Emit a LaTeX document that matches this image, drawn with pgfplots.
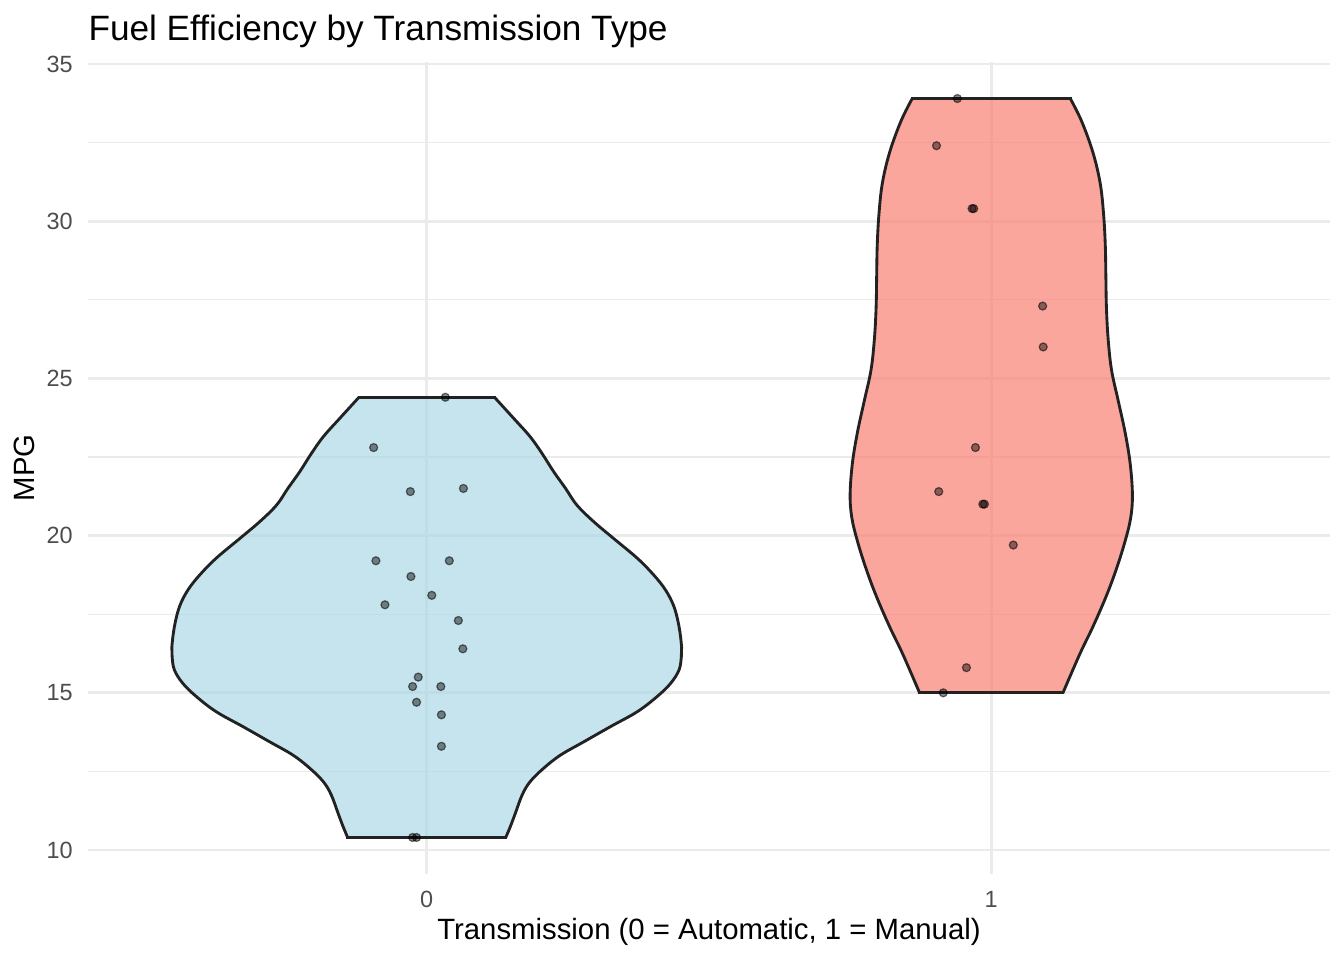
\documentclass[border=0pt]{standalone}
\usepackage{pgfplots}
\usepackage{pgfplotstable}
\pgfplotsset{compat=1.18}
\usepackage{fontspec}
\setmainfont{Liberation Sans}
\definecolor{autofill}{RGB}{173,216,230}
\definecolor{manfill}{RGB}{250,128,114}
\definecolor{gridc}{RGB}{235,235,235}
\definecolor{tickc}{RGB}{77,77,77}
\definecolor{outl}{RGB}{34,34,34}

% violin half-widths (offset from category centre) against mpg
\pgfplotstableread{
hw y
0.140 10.40
0.148 10.74
0.157 11.17
0.169 11.75
0.183 12.17
0.207 12.60
0.237 13.02
0.278 13.44
0.325 13.92
0.373 14.40
0.408 14.88
0.432 15.30
0.447 15.73
0.451 16.15
0.4515 16.45
0.447 17.10
0.438 17.74
0.423 18.27
0.402 18.75
0.373 19.28
0.331 19.91
0.296 20.44
0.266 20.97
0.246 21.50
0.225 22.03
0.204 22.62
0.183 23.15
0.154 23.73
0.120 24.40
}\autoshape
\pgfplotstableread{
hw y
0.127 15.00
0.157 16.24
0.180 17.10
0.204 18.09
0.222 18.96
0.237 19.82
0.247 20.57
0.250 21.31
0.246 22.30
0.237 23.29
0.225 24.28
0.213 25.27
0.207 26.26
0.204 27.25
0.203 28.24
0.202 29.23
0.199 30.21
0.193 31.20
0.180 32.19
0.160 33.18
0.140 33.90
}\manshape
% jittered points
\pgfplotstableread{
px py
0.033 24.4
-0.094 22.8
-0.029 21.4
0.065 21.5
-0.090 19.2
0.040 19.2
-0.028 18.7
0.009 18.1
-0.074 17.8
0.056 17.3
0.064 16.4
-0.015 15.5
-0.025 15.2
0.025 15.2
-0.018 14.7
0.026 14.3
0.026 13.3
-0.025 10.4
-0.018 10.4
}\autopts
\pgfplotstableread{
px py
0.940 33.9
0.903 32.4
0.966 30.4
0.969 30.4
1.091 27.3
1.092 26.0
0.972 22.8
0.907 21.4
0.985 21.0
0.988 21.0
1.039 19.7
0.956 15.8
0.915 15.0
}\manpts

\begin{document}
\begin{tikzpicture}[x=1pt,y=1pt]
\useasboundingbox (0,0) rectangle (504,360);
\begin{axis}[
  at={(33pt,32.1pt)}, anchor=south west,
  scale only axis, width=465.75pt, height=304.8pt,
  xmin=-0.6, xmax=1.6, ymin=9.225, ymax=35.075,
  axis line style={draw=none},
  tick style={draw=none},
  xtick={0,1}, xticklabels={0,1},
  ytick={10,15,20,25,30,35},
  minor ytick={12.5,17.5,22.5,27.5,32.5},
  xmajorgrids, ymajorgrids, yminorgrids,
  major grid style={gridc, line width=1.07pt},
  minor grid style={gridc, line width=0.53pt},
  tick label style={font=\fontsize{8.8}{10}\selectfont, text=tickc},
  /pgf/number format/assume math mode=true,
  yticklabel style={anchor=east, inner sep=0pt, xshift=-5.5pt},
  xticklabel style={anchor=north, inner sep=0pt, yshift=-6.1pt},
  title={Fuel Efficiency by Transmission Type},
  title style={at={(axis description cs:0,1)}, anchor=base west, yshift=2pt,
    font=\fontsize{13.2}{15}\selectfont, inner sep=0pt},
  xlabel={Transmission (0 = Automatic, 1 = Manual)},
  xlabel style={at={(axis description cs:0.5,-0.0800)}, anchor=base,
    font=\fontsize{11}{13}\selectfont, inner sep=0pt},
  ylabel={MPG},
  ylabel style={at={(axis description cs:-0.0427,0.5)}, anchor=base,
    font=\fontsize{11}{13}\selectfont, inner sep=0pt},
]
% ---- automatic violin: fill ----
\addplot[fill=autofill, fill opacity=0.7, draw=none] coordinates {
(0.140,10.40) (0.148,10.74) (0.157,11.17) (0.169,11.75) (0.183,12.17) (0.207,12.60)
(0.237,13.02) (0.278,13.44) (0.325,13.92) (0.373,14.40) (0.408,14.88) (0.432,15.30)
(0.447,15.73) (0.451,16.15) (0.4515,16.45) (0.447,17.10) (0.438,17.74) (0.423,18.27)
(0.402,18.75) (0.373,19.28) (0.331,19.91) (0.296,20.44) (0.266,20.97) (0.246,21.50)
(0.225,22.03) (0.204,22.62) (0.183,23.15) (0.154,23.73) (0.120,24.40)
(-0.120,24.40) (-0.154,23.73) (-0.183,23.15) (-0.204,22.62) (-0.225,22.03) (-0.246,21.50)
(-0.266,20.97) (-0.296,20.44) (-0.331,19.91) (-0.373,19.28) (-0.402,18.75) (-0.423,18.27)
(-0.438,17.74) (-0.447,17.10) (-0.4515,16.45) (-0.451,16.15) (-0.447,15.73) (-0.432,15.30)
(-0.408,14.88) (-0.373,14.40) (-0.325,13.92) (-0.278,13.44) (-0.237,13.02) (-0.207,12.60)
(-0.183,12.17) (-0.169,11.75) (-0.157,11.17) (-0.148,10.74) (-0.140,10.40) (0.140,10.40)} -- cycle;
% outline
\addplot[draw=outl, line width=1.07pt, smooth, tension=0.6] table[x expr=\thisrow{hw}, y=y] {\autoshape};
\addplot[draw=outl, line width=1.07pt, smooth, tension=0.6] table[x expr=-\thisrow{hw}, y=y] {\autoshape};
\addplot[draw=outl, line width=1.07pt, line cap=rect] coordinates {(-0.120,24.40) (0.120,24.40)};
\addplot[draw=outl, line width=1.07pt, line cap=rect] coordinates {(-0.140,10.40) (0.140,10.40)};
% ---- manual violin: fill ----
\addplot[fill=manfill, fill opacity=0.7, draw=none] coordinates {
(1.127,15.00) (1.157,16.24) (1.180,17.10) (1.204,18.09) (1.222,18.96) (1.237,19.82)
(1.247,20.57) (1.250,21.31) (1.246,22.30) (1.237,23.29) (1.225,24.28) (1.213,25.27)
(1.207,26.26) (1.204,27.25) (1.203,28.24) (1.202,29.23) (1.199,30.21) (1.193,31.20)
(1.180,32.19) (1.160,33.18) (1.140,33.90)
(0.860,33.90) (0.840,33.18) (0.820,32.19) (0.807,31.20) (0.801,30.21) (0.798,29.23)
(0.797,28.24) (0.796,27.25) (0.793,26.26) (0.787,25.27) (0.775,24.28) (0.763,23.29)
(0.754,22.30) (0.750,21.31) (0.753,20.57) (0.763,19.82) (0.778,18.96) (0.796,18.09)
(0.820,17.10) (0.843,16.24) (0.873,15.00) (1.127,15.00)} -- cycle;
\addplot[draw=outl, line width=1.07pt, smooth, tension=0.6] table[x expr=1+\thisrow{hw}, y=y] {\manshape};
\addplot[draw=outl, line width=1.07pt, smooth, tension=0.6] table[x expr=1-\thisrow{hw}, y=y] {\manshape};
\addplot[draw=outl, line width=1.07pt, line cap=rect] coordinates {(0.860,33.90) (1.140,33.90)};
\addplot[draw=outl, line width=1.07pt, line cap=rect] coordinates {(0.873,15.00) (1.127,15.00)};
% ---- jittered points ----
\addplot[only marks, mark=*, mark size=1.5pt,
  mark options={fill=black, fill opacity=0.45, draw=black, draw opacity=0.55, line width=0.45pt}]
  table[x=px, y=py] {\autopts};
\addplot[only marks, mark=*, mark size=1.5pt,
  mark options={fill=black, fill opacity=0.45, draw=black, draw opacity=0.55, line width=0.45pt}]
  table[x=px, y=py] {\manpts};
\end{axis}
\end{tikzpicture}
\end{document}
